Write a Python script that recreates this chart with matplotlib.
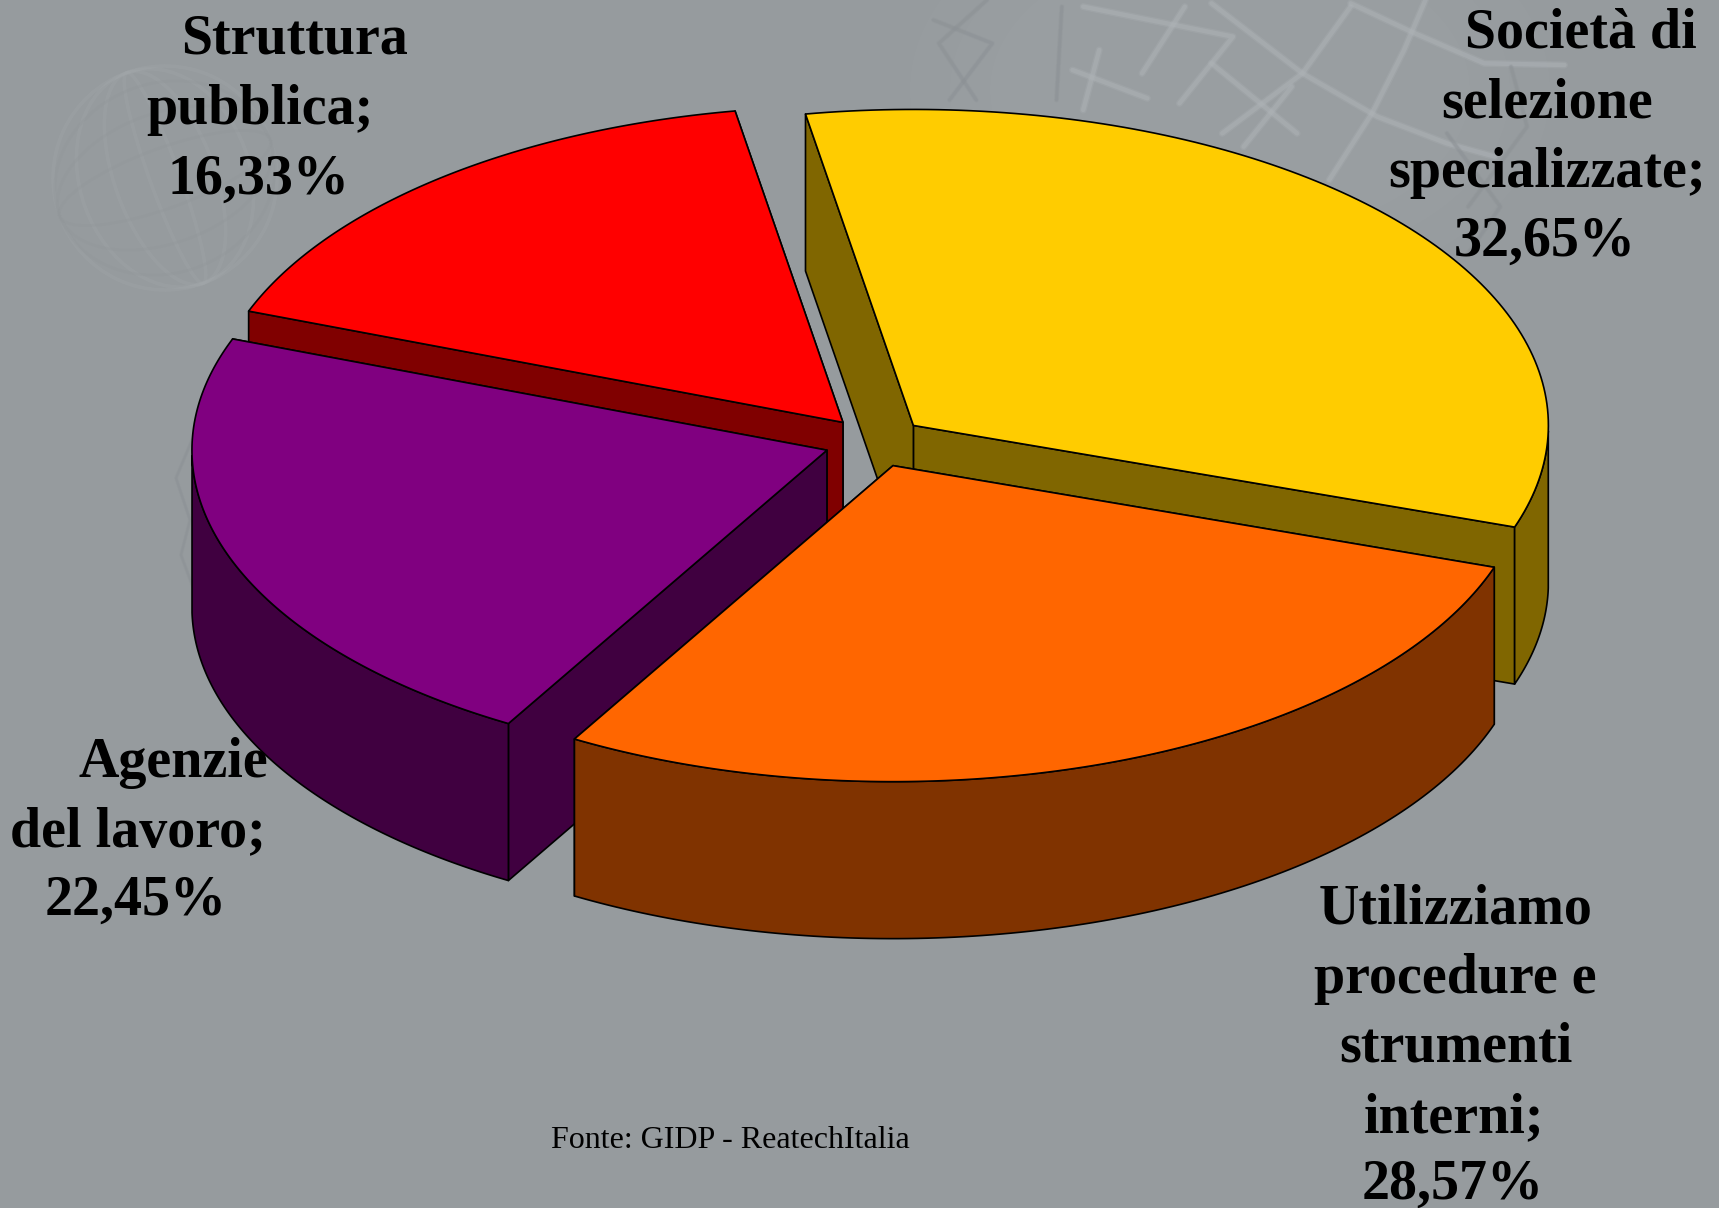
import matplotlib
matplotlib.use('agg')
import matplotlib.pyplot as plt
from matplotlib.patches import Polygon, Ellipse
import numpy as np

plt.rcParams['font.family'] = ['Liberation Serif', 'DejaVu Serif']

# Dati del grafico
labels = ['Società di\nselezione\nspecializzate;\n32,65%',
          'Utilizziamo\nprocedure e\nstrumenti\ninterni;\n28,57%',
          'Agenzie\ndel lavoro;\n22,45%',
          'Struttura\npubblica;\n16,33%']
values = [32.65, 28.57, 22.45, 16.33]
top_colors = ['#FFCC00', '#FF6600', '#800080', '#FF0000']
side_colors = ['#806600', '#803300', '#400040', '#800000']
source = 'Fonte: GIDP - ReatechItalia'

# centro riga (x) e linea di base (y) di ogni etichetta, in pixel
label_x = [[1581, 1547, 1547, 1545],
           [1456, 1455, 1456, 1454, 1453],
           [173, 138, 136],
           [294, 260, 258]]
label_y = [[47, 117, 187, 256],
           [923, 993, 1062, 1132, 1199],
           [777, 846, 915],
           [54, 124, 194]]

BG = '#969B9E'
W, H = 1719, 1208
CX, CY = 875, 442      # centro della torta
RX, RY = 635, 316      # semiassi
DEPTH = 157
EXPLODE = 0.08
START = -9.7           # gradi, senso orario dalle ore 12
PERSP = 1.0            # piccola deformazione prospettica, gradi


def point(theta, c):
    t = np.radians(theta + PERSP * np.cos(np.radians(theta - 85)))
    return c[0] + RX * np.sin(t), c[1] - RY * np.cos(t)


def soft_line(ax, xs, ys, color, lw):
    ax.plot(xs, ys, color=color, lw=lw * 1.6, alpha=0.25, solid_capstyle='round', zorder=1)
    ax.plot(xs, ys, color=color, lw=lw, alpha=0.45, solid_capstyle='round', zorder=1)


def draw_background(ax):
    # alone chiaro dietro il globo in alto a destra
    for w, h in [(640, 420), (560, 360), (480, 300)]:
        ax.add_patch(Ellipse((1230, 90), w, h, fc='#A2A6AA', ec='none', alpha=0.12, zorder=0.5))

    # globo in alto a destra (zoom sfondo)
    light = [[(880, 10), (1000, 100), (1130, 190), (1280, 195)],
             [(620, 10), (790, 220), (930, 350), (1060, 430), (1150, 470)],
             [(880, 20), (790, 220), (640, 400)],
             [(1020, 0), (980, 150), (920, 340), (840, 540)],
             [(570, 20), (490, 220)],
             [(380, 20), (660, 110), (560, 310)],
             [(360, 210), (500, 295)],
             [(410, 150), (380, 330)],
             [(620, 190), (780, 400)],
             [(770, 260), (680, 440)]]
    for line in light:
        p = np.array(line, dtype=float)
        soft_line(ax, 880 + p[:, 0] / 1.87, p[:, 1] / 3, '#AEB3B7', 3.2)
    dark = [[(100, 60), (210, 130), (130, 300)],
            [(200, 0), (110, 130), (180, 300)],
            [(340, 20), (330, 300)],
            [(1180, 200), (1210, 380), (1100, 620)],
            [(1060, 400), (1160, 620), (1100, 760)]]
    for line in dark:
        p = np.array(line, dtype=float)
        soft_line(ax, 880 + p[:, 0] / 1.87, p[:, 1] / 3, '#8C9195', 2.2)

    # globo sbiadito a sinistra
    for w in [224, 170, 100, 30]:
        ax.add_patch(Ellipse((165, 178), w, 224, angle=-20, fill=False, ec='#A3A8AB',
                             lw=2.5, alpha=0.3, zorder=1))
    for w in [60, 130, 190]:
        ax.add_patch(Ellipse((165, 178), 224, w, angle=-20, fill=False, ec='#8F9497',
                             lw=2, alpha=0.25, zorder=1))
    soft_line(ax, [192, 176, 190, 181, 194], [440, 478, 520, 555, 590], '#8C9195', 1.6)


def draw_wedge(ax, i, a0, a1, z):
    mid = (a0 + a1) / 2
    t = np.radians(mid)
    c = (CX + EXPLODE * RX * np.sin(t), CY - EXPLODE * RY * np.cos(t))
    style = dict(ec='black', lw=1.2, joinstyle='round', zorder=z)

    # facce radiali: prima quella che resta dietro
    for a in (a1, a0):
        x, y = point(a, c)
        face = [(c[0], c[1]), (x, y), (x, y + DEPTH), (c[0], c[1] + DEPTH)]
        ax.add_patch(Polygon(face, closed=True, fc=side_colors[i], **style))

    # bordo esterno, solo la parte verso chi guarda (90-270 gradi)
    lo, hi = max(a0, 90), min(a1, 270)
    if hi > lo:
        x, y = point(np.linspace(lo, hi, 120), c)
        rim = np.column_stack([np.r_[x, x[::-1]], np.r_[y, y[::-1] + DEPTH]])
        ax.add_patch(Polygon(rim, closed=True, fc=side_colors[i], **style))

    # faccia superiore
    x, y = point(np.linspace(a0, a1, 120), c)
    top = np.column_stack([np.r_[c[0], x], np.r_[c[1], y]])
    ax.add_patch(Polygon(top, closed=True, fc=top_colors[i], **style))


fig = plt.figure(figsize=(W / 100, H / 100), dpi=100, facecolor=BG)
ax = fig.add_axes([0, 0, 1, 1])
ax.set_xlim(0, W)
ax.set_ylim(H, 0)
ax.axis('off')

draw_background(ax)

edges = START + np.r_[0, np.cumsum(values)] * 3.6
# ordine di disegno: prima le fette dietro
for z, i in enumerate([3, 0, 2, 1]):
    draw_wedge(ax, i, edges[i], edges[i + 1], 5 + z)

for lab, xs, ys in zip(labels, label_x, label_y):
    for line, x, y in zip(lab.split('\n'), xs, ys):
        ax.text(x, y, line, ha='center', va='baseline', fontsize=40.3, fontweight='bold',
                color='black', zorder=20)

ax.text(730, 1148, source, ha='center', va='baseline', fontsize=23, color='black', zorder=20)

fig.savefig('out.png', dpi=100, facecolor=BG)
